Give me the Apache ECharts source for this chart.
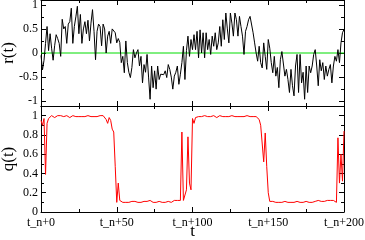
<!DOCTYPE html>
<html>
<head>
<meta charset="utf-8">
<script src="https://cdn.jsdelivr.net/npm/echarts@6/dist/echarts.min.js"></script>
<style>
html,body{margin:0;padding:0;background:#fff;}
#c{width:365px;height:240px;}
</style>
</head>
<body>
<div id="c"></div>
<script>
// ---- data ----
const rValues = [
 -0.05,-0.35,-0.15,0.2,0.55,0.05,0.4,0.1,-0.15,0.15,
 0.38,0.3,0.2,-0.07,0.7,0.5,0.55,0.2,0.6,0.65,
 0.93,0.2,0.55,0.75,0.97,0.4,0.8,0.2,0.5,0.65,
 0.4,0.68,0.25,0.62,0.9,0.45,-0.14,0.45,0.6,0.55,
 0.15,0.6,0.5,0.0,0.35,0.45,0.2,0.5,0.5,0.42,
 0.21,0.3,0.22,-0.2,-0.07,-0.41,0.25,-0.2,-0.4,-0.51,
 -0.3,0.07,-0.1,0.0,0.07,-0.27,-0.07,-0.62,-0.24,-0.4,
 -0.03,-0.5,-0.96,-0.27,-0.72,-0.37,-0.75,-0.27,-0.55,-0.44,
 -0.48,-0.45,-0.37,-0.51,-0.24,-0.34,-0.5,-0.75,-0.48,-0.4,
 -0.27,-0.65,-0.44,-0.2,0.14,-0.55,0.05,0.35,-0.07,0.28,
 0.07,0.38,0.07,0.45,-0.1,0.48,0.0,0.42,-0.1,0.42,
 0.07,0.28,-0.03,0.35,0.14,0.42,0.07,0.21,0.55,0.14,
 0.69,0.28,0.83,0.5,0.21,0.83,0.62,0.35,0.83,0.69,
 0.35,0.76,0.55,0.35,-0.03,0.45,0.55,0.69,0.76,0.79,
 0.42,0.21,0.0,-0.17,0.14,-0.2,-0.31,0.21,-0.07,-0.34,
 0.28,0.1,-0.2,-0.41,-0.07,-0.48,-0.3,-0.72,-0.14,0.03,
 0.0,-0.48,-0.34,-0.55,-0.82,-0.34,-0.68,-0.89,-0.27,-0.03,
 -0.82,-0.03,-0.62,-0.4,-0.96,-0.27,-0.82,-0.27,-0.41,-0.27,
 -0.03,0.07,-0.27,-0.68,-0.14,-0.37,-0.2,-0.55,-0.27,-0.48,
 -0.34,-0.24,-0.62,-0.27,-0.07,-0.17,0.07,-0.2,0.21,0.42,
 0.49
];
const qValues = [
 0.95,0.9,0.97,0.39,0.92,0.97,0.99,1.0,0.99,0.98,
 0.99,1.0,0.99,1.0,0.98,0.99,0.99,1.0,0.99,0.98,
 0.99,1.0,0.99,0.99,0.98,0.99,1.0,0.99,0.98,0.99,
 0.99,1.0,0.99,0.99,0.98,0.99,1.0,0.99,0.99,1.0,
 0.99,1.0,0.99,0.96,0.92,0.98,0.95,0.86,0.83,0.47,
 0.1,0.3,0.12,0.11,0.1,0.11,0.1,0.11,0.1,0.1,
 0.11,0.1,0.11,0.12,0.1,0.11,0.1,0.1,0.11,0.1,
 0.11,0.1,0.12,0.1,0.1,0.11,0.1,0.1,0.11,0.1,
 0.1,0.11,0.1,0.1,0.11,0.1,0.1,0.11,0.12,0.11,
 0.12,0.11,0.12,0.83,0.12,0.1,0.23,0.78,0.3,0.23,
 0.97,0.92,0.98,0.96,0.99,1.0,0.99,0.99,1.0,0.98,
 0.99,1.0,0.99,0.99,1.0,0.99,0.98,0.99,1.0,0.99,
 0.99,1.0,0.99,0.98,0.99,1.0,1.0,0.99,0.99,1.0,
 0.99,0.98,0.99,1.0,0.99,0.99,1.0,0.99,0.99,1.0,
 0.99,0.99,0.99,0.98,0.96,0.9,0.88,0.52,0.82,0.47,
 0.2,0.11,0.1,0.11,0.1,0.1,0.11,0.1,0.11,0.1,
 0.1,0.11,0.1,0.1,0.12,0.1,0.11,0.1,0.1,0.11,
 0.1,0.1,0.11,0.1,0.1,0.11,0.1,0.1,0.11,0.1,
 0.1,0.11,0.1,0.12,0.1,0.11,0.1,0.11,0.1,0.12,
 0.11,0.12,0.11,0.12,0.11,0.1,0.77,0.3,0.6,0.32,
 0.84
];
const tValues = rValues.map((_, i) => i);
const xTicks = [0, 50, 100, 150, 200];
const xMinor = [25, 75, 125, 175];
const xLabelPrefix = 't_n+';
const rTicks = [-1, -0.5, 0, 0.5, 1];
const rMinor = [-0.75, -0.25, 0.25, 0.75];
const qTicks = [0, 0.2, 0.4, 0.6, 0.8, 1];
const qMinor = [0.1, 0.3, 0.5, 0.7, 0.9];
const zeroLineT = [0, 200];
const zeroLineR = [0, 0];

// ---- chart ----
const FONT = 'Liberation Serif';
function axis(opt) {
  const o = {
    type: 'value',
    gridIndex: opt.grid,
    position: opt.pos,
    min: opt.min, max: opt.max,
    splitLine: {show: false},
    axisLine: {show: !!opt.line, onZero: false, lineStyle: {color: '#000', width: 1}},
    axisTick: {show: true, inside: true, length: opt.len, customValues: opt.values,
               lineStyle: {color: '#000', width: 1}},
    axisLabel: {show: !!opt.labels, customValues: opt.values, fontFamily: FONT,
                fontSize: 12, color: '#000', margin: opt.margin || 4,
                formatter: opt.fmt},
    axisPointer: {show: false}
  };
  if (opt.name) {
    o.name = opt.name; o.nameLocation = 'middle'; o.nameGap = opt.nameGap;
    o.nameMoveOverlap = false;
    o.nameTextStyle = {fontFamily: FONT, fontSize: 17, color: '#000'};
  }
  return o;
}
const xFmt = v => xLabelPrefix + v;
const xAxes = [];
const yAxes = [];
[0, 1].forEach(g => {
  xAxes.push(axis({grid: g, pos: 'bottom', min: 0, max: 200, values: xTicks, len: 5, line: true,
    labels: g === 1, fmt: xFmt, margin: 5, name: g === 1 ? 't' : null, nameGap: 11}));
  xAxes.push(axis({grid: g, pos: 'bottom', min: 0, max: 200, values: xMinor, len: 3}));
  xAxes.push(axis({grid: g, pos: 'top', min: 0, max: 200, values: xTicks, len: 5, line: true}));
  xAxes.push(axis({grid: g, pos: 'top', min: 0, max: 200, values: xMinor, len: 3}));
  const ymin = g === 0 ? -1.1 : 0, ymax = 1.1;
  const maj = g === 0 ? rTicks : qTicks, mnr = g === 0 ? rMinor : qMinor;
  yAxes.push(axis({grid: g, pos: 'left', min: ymin, max: ymax, values: maj, len: 5, line: true,
    labels: true, margin: 3, name: g === 0 ? 'r(t)' : 'q(t)', nameGap: 24}));
  yAxes.push(axis({grid: g, pos: 'left', min: ymin, max: ymax, values: mnr, len: 3}));
  yAxes.push(axis({grid: g, pos: 'right', min: ymin, max: ymax, values: maj, len: 5, line: true}));
  yAxes.push(axis({grid: g, pos: 'right', min: ymin, max: ymax, values: mnr, len: 3}));
});

const chart = echarts.init(document.getElementById('c'), null, {renderer: 'canvas'});
chart.setOption({
  animation: false,
  backgroundColor: '#fff',
  grid: [
    {left: 41, right: 21, top: 0, height: 106, outerBoundsMode: 'none', containLabel: false},
    {left: 41, right: 21, top: 106, height: 106, outerBoundsMode: 'none', containLabel: false}
  ],
  xAxis: xAxes,
  yAxis: yAxes,
  series: [
    {
      type: 'line', xAxisIndex: 0, yAxisIndex: 0,
      data: zeroLineT.map((t, i) => [t, zeroLineR[i]]),
      showSymbol: false, symbol: 'none', silent: true,
      lineStyle: {color: '#00dd00', width: 1},
      z: 2
    },
    {
      type: 'line', xAxisIndex: 0, yAxisIndex: 0,
      data: tValues.map((t, i) => [t, rValues[i]]),
      showSymbol: false, symbol: 'none',
      lineStyle: {color: '#000', width: 1},
      z: 3
    },
    {
      type: 'line', xAxisIndex: 4, yAxisIndex: 4,
      data: tValues.map((t, i) => [t, qValues[i]]),
      showSymbol: false, symbol: 'none',
      lineStyle: {color: '#ff0000', width: 1}
    }
  ]
});
</script>
</body>
</html>
